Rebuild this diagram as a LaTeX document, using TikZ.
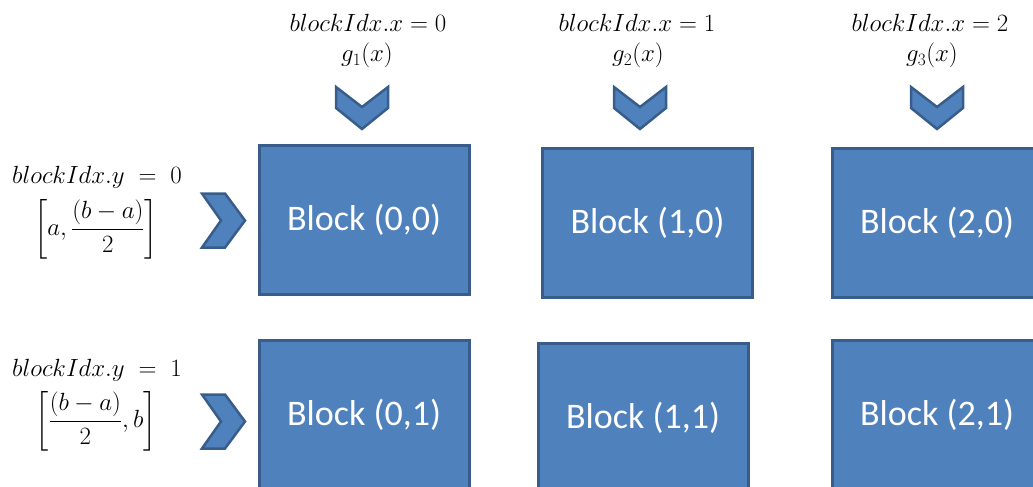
\documentclass[tikz,border=0pt]{standalone}
\usepackage{amsmath}
\usepackage{fontspec}
\newfontfamily\blockfont{Carlito}
\definecolor{blockfill}{HTML}{4F81BD}
\definecolor{blockline}{HTML}{385D8A}
\tikzset{
  blk/.style={draw=blockline, fill=blockfill, line width=3pt,
    minimum width=210pt, minimum height=149pt, inner sep=0pt,
    text=white, font=\blockfont\fontsize{36}{40}\selectfont},
  lbl/.style={inner sep=0pt, font=\fontsize{26}{30}\selectfont},
  brk/.style={inner sep=0pt, font=\fontsize{24}{30}\selectfont},
  chev/.style={draw=blockline, fill=blockfill, line width=2.5pt, line join=miter},
  downchev/.pic={\path[chev] (-26,0) -- (0,20) -- (26,0) -- (26,21) -- (0,42) -- (-26,21) -- cycle;},
  rightchev/.pic={\path[chev] (0,-27) -- (23,-27) -- (43,0) -- (23,27) -- (0,27) -- (19,0) -- cycle;}
}
\begin{document}
\begin{tikzpicture}[x=1pt,y=-1pt]
\useasboundingbox (0,0) rectangle (1033,487);
\clip (0,0) rectangle (1033,487);

% grid of blocks
\node[blk] (b00) at (364,220) {Block (0,0)};
\node[blk] (b10) at (647.5,223) {Block (1,0)};
\node[blk] (b20) at (937,222.5) {Block (2,0)};
\node[blk] (b01) at (364,415) {Block (0,1)};
\node[blk] (b11) at (643,418) {Block (1,1)};
\node[blk] (b21) at (937,415) {Block (2,1)};

% column labels
\node[lbl, anchor=base] (cx0) at (368,32) {$blockIdx.x=0$};
\node[lbl, anchor=base] (cg0) at (367,62) {$g_1(x)$};
\node[lbl, anchor=base] (cx1) at (637,32) {$blockIdx.x=1$};
\node[lbl, anchor=base] (cg1) at (638,62) {$g_2(x)$};
\node[lbl, anchor=base] (cx2) at (930,32) {$blockIdx.x=2$};
\node[lbl, anchor=base] (cg2) at (932,62) {$g_3(x)$};

% row labels
\node[lbl, anchor=base] (ry0) at (97,183) {$blockIdx.y\;=\;0$};
\node[brk] (ri0) at (96,229) {$\left[a,\dfrac{(b-a)}{2}\right]$};
\node[lbl, anchor=base] (ry1) at (97,376) {$blockIdx.y\;=\;1$};
\node[brk] (ri1) at (96,421) {$\left[\dfrac{(b-a)}{2},b\right]$};

% chevrons
\pic at (362,87) {downchev};
\pic at (640,87) {downchev};
\pic at (937,87) {downchev};
\pic at (202,220.5) {rightchev};
\pic at (202,421.5) {rightchev};
\end{tikzpicture}
\end{document}
